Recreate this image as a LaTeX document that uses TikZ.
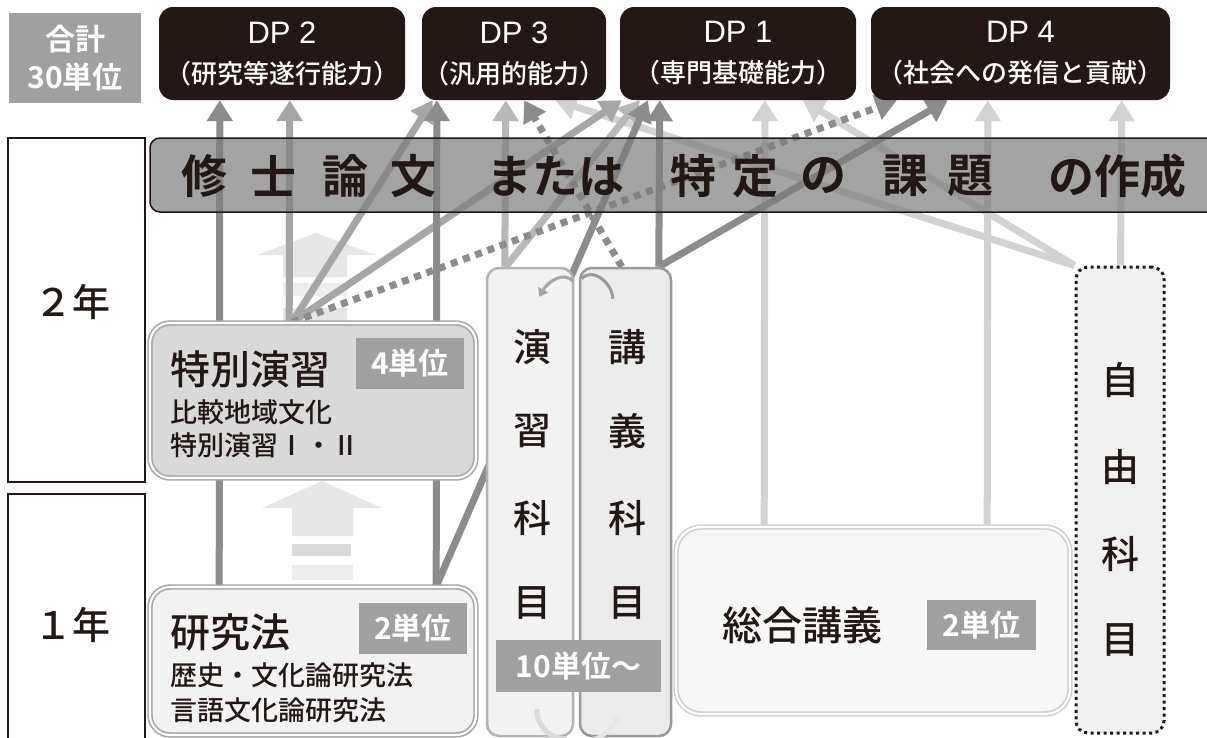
\documentclass[tikz,border=0pt]{standalone}
\usepackage{fontspec}
\setmainfont{Noto Sans CJK JP Medium}[BoldFont={Noto Sans CJK JP Bold}]
\newfontfamily\latinfont{Liberation Sans}
\usepackage{tikz}
\usetikzlibrary{backgrounds, positioning, arrows.meta}
\usepackage{xcolor}
\definecolor{ink}{HTML}{231815}
\definecolor{unitgray}{HTML}{A0A0A0}
\definecolor{bannergray}{HTML}{7D7D7D}
\definecolor{coursegray}{HTML}{A6A6A6}
\definecolor{tokufill}{HTML}{D9D9D9}
\definecolor{kenfill}{HTML}{F2F2F2}
\definecolor{enfill}{HTML}{F2F2F2}
\definecolor{enline}{HTML}{B3B3B3}
\definecolor{kofill}{HTML}{EBEBEB}
\definecolor{koline}{HTML}{999999}
\definecolor{sogoline}{HTML}{D0D0D0}
\definecolor{sogofill}{HTML}{F7F7F7}
\definecolor{jiyufill}{HTML}{F0F0F0}
\definecolor{blockgray}{HTML}{E6E6E6}
\definecolor{blockbar}{HTML}{DADADA}
\definecolor{blockpale}{HTML}{EDEDED}
\definecolor{dkline}{HTML}{8C8C8C}
\definecolor{mdline}{HTML}{A6A6A6}
\definecolor{ltline}{HTML}{B8B8B8}
\definecolor{faint}{HTML}{D2D2D2}

\begin{document}
\begin{tikzpicture}[x=1pt, y=-1pt,
  every node/.style={inner sep=0pt, text=ink},
  dp/.style={fill=ink, text=white, rounded corners=14pt, minimum height=93pt, align=center, font=\fontsize{26}{40}\selectfont},
  unit/.style={fill=unitgray, text=white, align=center, font=\bfseries\fontsize{30}{38}\selectfont},
  year/.style={draw=ink, line width=1.2pt, fill=white, minimum width=137pt},
  yearlabel/.style={font=\fontsize{38}{40}\selectfont},
  course/.style={draw=coursegray, double=white, double distance=2.2pt, line width=1.6pt, rounded corners=20pt, minimum width=326pt},
  column/.style={rounded corners=12pt, line width=2.5pt, minimum height=468pt},
  bigtext/.style={anchor=west, font=\fontsize{40}{44}\selectfont},
  smalltext/.style={anchor=west, font=\fontsize{27}{30}\selectfont},
  colchar/.style={font=\fontsize{38}{40}\selectfont},
  bannerchar/.style={font=\bfseries\fontsize{46}{50}\selectfont},
  link/.style={line width=7pt, -{Triangle[length=21pt, width=25pt]}},
  dotlink/.style={link, dash pattern=on 7pt off 6pt},
]
\useasboundingbox (0,0) rectangle (1207,737);

\node[unit, minimum width=132pt, minimum height=90pt] (total) at (75,58) {合計\\30単位};
\node[dp, minimum width=246pt] (dp2) at (282,53.5) {{\latinfont\fontsize{31}{40}\selectfont DP 2}\\（研究等遂行能力）};
\node[dp, minimum width=184pt] (dp3) at (514,53.5) {{\latinfont\fontsize{31}{40}\selectfont DP 3}\\（汎用的能力）};
\node[dp, minimum width=236pt] (dp1) at (738,53.5) {{\latinfont\fontsize{31}{40}\selectfont DP 1}\\（専門基礎能力）};
\node[dp, minimum width=299pt] (dp4) at (1020.5,53.5) {{\latinfont\fontsize{31}{40}\selectfont DP 4}\\（社会への発信と貢献）};

\node[draw=ink, line width=1.5pt, fill=bannergray, fill opacity=0.7, rounded corners=10pt, minimum width=1080pt, minimum height=74pt] (thesis) at (690,175) {};
\foreach \ch/\cx [count=\i] in {修/204, 士/273, 論/345, 文/413, または/555, 特/693, 定/755, の/823, 課/905, 題/970, の作成/1117}
  \node[bannerchar] (word\i) at (\cx,176) {\ch};

\node[year, minimum height=344pt] (year2) at (76.5,310) {};
\node[yearlabel] (year2text) at (72,302) {２年};
\node[year, minimum height=252pt] (year1) at (76.5,620) {};
\node[yearlabel] (year1text) at (72,625) {１年};

\node[course, fill=tokufill, minimum height=155pt] (tokubetsu) at (313,400.5) {};
\node[bigtext] (tokutitle) at (170,369) {特別演習};
\node[unit, minimum width=108pt, minimum height=51pt] (tokuunit) at (410,363.5) {4単位};
\node[smalltext] (tokuline1) at (170,412) {比較地域文化};
\node[smalltext] (tokuline2) at (170,445) {特別演習Ⅰ・Ⅱ};

\node[course, fill=kenfill, minimum height=148pt] (kenkyu) at (313,661) {};
\node[bigtext] (kentitle) at (170,632) {研究法};
\node[unit, minimum width=108pt, minimum height=51pt] (kenunit) at (413,628) {2単位};
\node[smalltext] (kenline1) at (170,675) {歴史・文化論研究法};
\node[smalltext] (kenline2) at (170,710) {言語文化論研究法};

\node[column, draw=enline, fill=enfill, minimum width=86pt] (enshu) at (530,502) {};
\node[column, draw=koline, fill=kofill, minimum width=91pt] (kogi) at (625.5,502) {};
\foreach \ch/\cy [count=\i] in {演/347, 習/431, 科/518, 目/603}
  \node[colchar] (en\i) at (532,\cy) {\ch};
\foreach \ch/\cy [count=\i] in {講/347, 義/431, 科/518, 目/603}
  \node[colchar] (ko\i) at (627,\cy) {\ch};
\draw[mdline, line width=3pt, -{Triangle[length=8pt, width=11pt]}] ([shift={(-1,15)}]enshu.north east) .. controls +(-10,-12) and +(8,-14) .. ([shift={(-35,30)}]enshu.north east);
\draw[koline, line width=3pt] ([shift={(3,12)}]kogi.north west) .. controls +(10,-12) and +(0,-16) .. ([shift={(34,32)}]kogi.north west);
\draw[blockbar, line width=5pt] ([shift={(51,-28)}]enshu.south west) .. controls +(0,18) and +(-15,0) .. ([shift={(81,2)}]enshu.south west);
\draw[blockgray, line width=4pt, -{Triangle[length=8pt, width=11pt]}] ([shift={(12,2)}]kogi.south west) .. controls +(14,0) and +(-4,10) .. ([shift={(40,-24)}]kogi.south west);
\node[unit, minimum width=165pt, minimum height=52pt] (unitten) at (578.5,666) {10単位〜};

\node[course, draw=sogoline, fill=sogofill, rounded corners=25pt, minimum width=394pt, minimum height=187pt] (sogo) at (873,620.5) {};
\node[bigtext] (sogotitle) at (722,625) {総合講義};
\node[unit, minimum width=109pt, minimum height=50pt] (sogounit) at (981.5,625) {2単位};

\node[draw=ink, fill=jiyufill, line width=3pt, dash pattern=on 3pt off 3.5pt, rounded corners=12pt, minimum width=88pt, minimum height=466pt] (jiyu) at (1120,500) {};
\foreach \ch/\cy [count=\i] in {自/380, 由/467, 科/554, 目/640}
  \node[colchar] (ji\i) at (1120,\cy) {\ch};

\begin{pgfonlayer}{background}
\fill[white] (0,0) rectangle (1207,737);
\fill[blockgray] (316,233) -- (376,255) -- (347,255) -- (347,277) -- (283,277) -- (283,255) -- (257,255) -- cycle;
\fill[blockpale] (283,283) rectangle (347,296);
\fill[blockgray] (283,308) rectangle (347,323);
\fill[blockgray] (322,481) -- (382,508) -- (353,508) -- (353,536) -- (292,536) -- (292,508) -- (262,508) -- cycle;
\fill[blockbar] (292,544) rectangle (351,556);
\fill[blockpale] (292,565) rectangle (353,580);

\draw[link, faint] (jiyu.north west) -- ([xshift=-51pt]dp3.south east);
\draw[link, faint] (jiyu.north west) -- ([xshift=183pt]dp1.south west);
\draw[link, faint] ([xshift=46pt]jiyu.north west) -- ([xshift=251pt]dp4.south west);
\draw[link, faint] ([xshift=89pt]sogo.north west) -- ([xshift=145pt]dp1.south west);
\draw[link, faint] ([xshift=312pt]sogo.north west) -- ([xshift=117pt]dp4.south west);
\draw[link, ltline] ([xshift=19pt]enshu.north west) -- ([xshift=84pt]dp3.south west);
\draw[link, ltline] ([xshift=20pt]enshu.north west) -- ([xshift=20pt]dp1.south west);
\draw[link, mdline] ([xshift=140pt]tokubetsu.north west) -- ([xshift=131pt]dp2.south west);
\draw[link, mdline] ([xshift=143pt]tokubetsu.north west) -- ([xshift=11pt]dp3.south west);
\draw[link, mdline] ([xshift=143pt]tokubetsu.north west) -- ([xshift=2pt]dp1.south west);
\draw[link, dkline] ([xshift=70pt]kenkyu.north west) -- ([xshift=61pt]dp2.south west);
\draw[link, dkline] ([xshift=287pt]kenkyu.north west) -- ([xshift=15pt]dp3.south west);
\draw[link, dkline] ([xshift=287pt]kenkyu.north west) -- ([xshift=28pt]dp1.south west);
\draw[link, dkline] ([xshift=80pt]kogi.north west) -- ([xshift=40pt]dp1.south west);
\draw[link, dkline] ([xshift=80pt]kogi.north west) -- ([xshift=77pt]dp4.south west);
\draw[dotlink, dkline] ([xshift=143pt]tokubetsu.north west) -- ([xshift=26pt]dp4.south west);
\draw[dotlink, dkline] ([xshift=43pt]kogi.north west) -- ([xshift=-82pt]dp3.south east);
\end{pgfonlayer}
\end{tikzpicture}
\end{document}
